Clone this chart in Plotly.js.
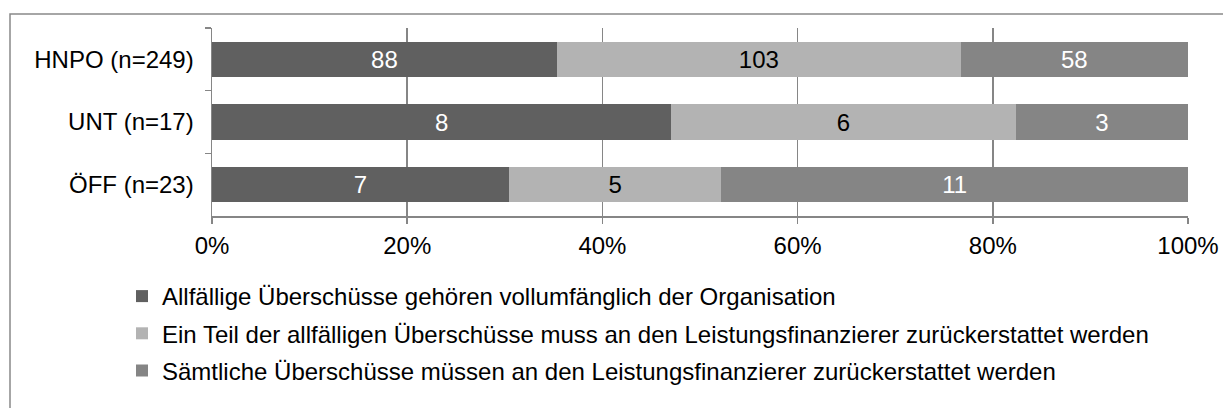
<!DOCTYPE html>
<html>
<head>
<meta charset="utf-8">
<script src="https://cdn.plot.ly/plotly-3.0.1.min.js"></script>
<style>
	html, body { margin: 0; padding: 0; background: #fff; }
	#chart { width: 1223px; height: 408px; }
</style>
</head>
<body>
<div id="chart"></div>
<script>
// groups (top to bottom)
const groups = ["HNPO (n=249)", "UNT (n=17)", "ÖFF (n=23)"]

// counts per answer
const vollumfaenglich = [88, 8, 7]
const teilweise = [103, 6, 5]
const saemtliche = [58, 3, 11]

const seriesNames = [
	"Allfällige Überschüsse gehören vollumfänglich der Organisation",
	"Ein Teil der allfälligen Überschüsse muss an den Leistungsfinanzierer zurückerstattet werden",
	"Sämtliche Überschüsse müssen an den Leistungsfinanzierer zurückerstattet werden"
]

const xTicks = [0, 20, 40, 60, 80, 100]
const xTickText = ["0%", "20%", "40%", "60%", "80%", "100%"]


const FONT = "Liberation Sans, Arial, sans-serif"
const FS = 24
const W = 1223, H = 408
const M = { l: 212, r: 35, t: 28, b: 192 }

// px -> paper helpers
const px = x => (x - M.l) / (W - M.l - M.r)
const py = y => (H - M.b - y) / (H - M.t - M.b)

function makeTrace(vals, i, color, textColor) {
	return {
		type: "bar",
		orientation: "h",
		name: seriesNames[i],
		legendgroup: "g" + i,
		y: groups,
		x: vals,
		text: vals.map(String),
		texttemplate: "%{text}",
		textposition: "inside",
		insidetextanchor: "middle",
		constraintext: "none",
		textfont: { family: FONT, size: FS, color: textColor },
		marker: { color: color, line: { width: 0 } },
		hoverinfo: "skip"
	}
}

const data = [
	makeTrace(vollumfaenglich, 0, "#606060", "#ffffff"),
	makeTrace(teilweise, 1, "#b3b3b3", "#000000"),
	makeTrace(saemtliche, 2, "#858585", "#ffffff")
]

const layout = {
	width: W,
	height: H,
	margin: M,
	barmode: "stack",
	barnorm: "percent",
	bargap: 0.44,
	showlegend: true,
	font: { family: FONT, size: FS, color: "#000" },
	paper_bgcolor: "#fff",
	plot_bgcolor: "#fff",
	xaxis: {
		range: [0, 100],
		tickvals: xTicks,
		ticktext: xTickText,
		showgrid: true,
		gridcolor: "#868686",
		gridwidth: 1.5,
		showline: true,
		linecolor: "#868686",
		linewidth: 1.5,
		ticks: "outside",
		ticklen: 6,
		tickcolor: "#868686",
		tickwidth: 1.5,
		ticklabelstandoff: 2,
		zeroline: false,
		fixedrange: true
	},
	yaxis: {
		autorange: "reversed",
		tickson: "boundaries",
		showgrid: false,
		showline: true,
		linecolor: "#868686",
		linewidth: 1.5,
		ticks: "outside",
		ticklen: 6,
		tickcolor: "#868686",
		tickwidth: 1.5,
		ticklabelstandoff: 12,
		fixedrange: true
	},
	legend: {
		orientation: "v",
		traceorder: "grouped",
		tracegroupgap: 3,
		x: px(122),
		xanchor: "left",
		y: py(274),
		yanchor: "top",
		font: { family: FONT, size: FS, color: "#000" },
		itemwidth: 30,
		bgcolor: "rgba(0,0,0,0)"
	},
	shapes: [{
		type: "rect",
		xref: "paper", yref: "paper",
		x0: px(10), x1: px(1240),
		y0: py(14), y1: py(430),
		line: { color: "#898989", width: 1.5 },
		fillcolor: "rgba(0,0,0,0)",
		layer: "below"
	}]
}

Plotly.newPlot("chart", data, layout, { displayModeBar: false, staticPlot: true })
</script>
</body>
</html>
